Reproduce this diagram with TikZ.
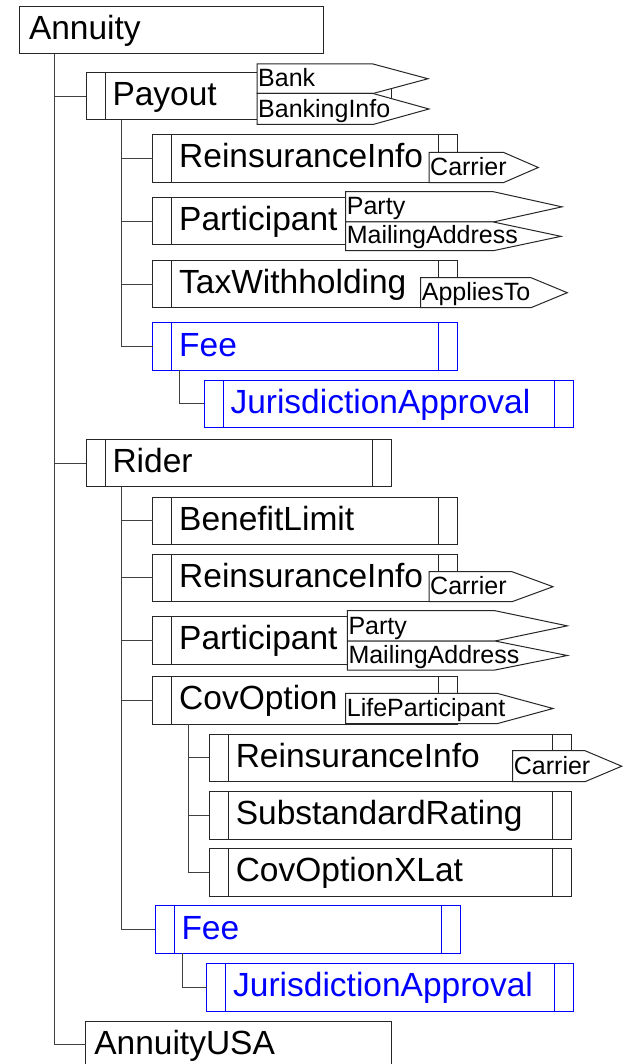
\documentclass[tikz,border=0pt]{standalone}
\usepackage{fontspec}
\setmainfont{Liberation Sans}
\usetikzlibrary{calc}
\newcommand\mytag[7]{%
  \draw[tagline] (#2,#3) -- (#5,#3) -- (#6,{(#3+#4)/2}) -- (#5,#4) -- (#2,#4) -- cycle;
  \node[tagtext] (#1) at ({#2+1},{#4-7}) {#7};}
\begin{document}
\begin{tikzpicture}[x=1pt,y=-1pt,
  basebox/.style={draw=black!85, line width=1pt, fill=white, anchor=north west,
    inner sep=0pt, outer sep=0pt, align=left, text height=24pt, text depth=5pt,
    font=\fontsize{33.5}{40}\selectfont},
  wb/.style={minimum width=#1, text width=#1},
  bars/.style={path picture={\draw[line width=1pt, #1]
     ([xshift=19pt]path picture bounding box.north west) -- ([xshift=19pt]path picture bounding box.south west)
     ([xshift=-19pt]path picture bounding box.north east) -- ([xshift=-19pt]path picture bounding box.south east);}},
  bars/.default=black!85,
  barbox/.style={basebox, bars, execute at begin node={\noindent\hspace*{26.5pt}}},
  bluebox/.style={basebox, draw=blue, text=blue, bars=blue, execute at begin node={\noindent\hspace*{26.5pt}}},
  plainbox/.style={basebox, execute at begin node={\noindent\hspace*{#1}}},
  conn/.style={draw=black!75, line width=1pt},
  tagline/.style={draw=black!85, line width=1pt, fill=white, line join=miter},
  tagtext/.style={anchor=base west, inner sep=0pt, font=\fontsize{25}{30}\selectfont}
]
\useasboundingbox (0,0) rectangle (624,1064);
\fill[white] (0,0) rectangle (624,1064);

% boxes
\node[plainbox=10pt, wb=304pt, minimum height=47pt] (annuity) at (19,7) {Annuity};
\node[barbox, wb=305pt, minimum height=47.3pt] (payout) at (86,72.7) {Payout};
\node[barbox, wb=305pt, minimum height=48pt] (pri) at (152.7,134.3) {ReinsuranceInfo};
\node[barbox, wb=305pt, minimum height=47.7pt] (ppart) at (152.7,197.3) {Participant};
\node[barbox, wb=305pt, minimum height=47.2pt] (ptax) at (152.7,260.5) {TaxWithholding};
\node[bluebox, wb=305pt, minimum height=47.6pt] (pfee) at (152.7,322.7) {Fee};
\node[bluebox, wb=369.3pt, minimum height=47.7pt] (pja) at (204,380) {JurisdictionApproval};
\node[barbox, wb=305pt, minimum height=47.4pt] (rider) at (86,439.3) {Rider};
\node[barbox, wb=305pt, minimum height=47pt] (rbl) at (152.7,497.3) {BenefitLimit};
\node[barbox, wb=305pt, minimum height=47.7pt] (rri) at (152.7,554) {ReinsuranceInfo};
\node[barbox, wb=305pt, minimum height=47.5pt] (rpart) at (152.7,616.5) {Participant};
\node[barbox, wb=305pt, minimum height=47.3pt] (rcov) at (152.7,676.7) {CovOption};
\node[barbox, wb=361.7pt, minimum height=47.7pt] (cri) at (209.3,734) {ReinsuranceInfo};
\node[barbox, wb=361.7pt, minimum height=48pt] (csr) at (209.3,791) {SubstandardRating};
\node[barbox, wb=361.7pt, minimum height=47.7pt] (cxl) at (209.3,848.3) {CovOptionXLat};
\node[bluebox, wb=305pt, minimum height=47.6pt] (rfee) at (155,905.7) {Fee};
\node[bluebox, wb=366.3pt, minimum height=47.7pt] (rja) at (206.7,963.3) {JurisdictionApproval};
\node[plainbox=8.6pt, wb=305.3pt, minimum height=47pt] (annuityusa) at (85.7,1021) {AnnuityUSA};

% connectors
\coordinate (t0) at ($(annuity.south west)+(35,0)$);
\draw[conn] (t0) |- (annuityusa.west);
\draw[conn] (t0 |- payout.west) -- (payout.west);
\draw[conn] (t0 |- rider.west) -- (rider.west);

\coordinate (t1) at ($(payout.south west)+(35.7,0)$);
\draw[conn] (t1) |- (pfee.west);
\foreach \n in {pri,ppart,ptax} \draw[conn] (t1 |- \n.west) -- (\n.west);
\draw[conn] ($(pfee.south west)+(26.6,0)$) |- (pja.west);

\coordinate (t2) at ($(rider.south west)+(35.7,0)$);
\draw[conn] (t2) |- (rfee.west);
\foreach \n in {rbl,rri,rpart,rcov} \draw[conn] (t2 |- \n.west) -- (\n.west);

\coordinate (t3) at ($(rcov.south west)+(35.6,0)$);
\draw[conn] (t3) |- (cxl.west);
\foreach \n in {cri,csr} \draw[conn] (t3 |- \n.west) -- (\n.west);
\draw[conn] ($(rfee.south west)+(27.5,0)$) |- (rja.west);

% tags
\mytag{bank}{257}{64}{93.5}{373}{428}{Bank}
\mytag{bankinfo}{257}{93.5}{124.5}{373}{429}{BankingInfo}
\mytag{pcarrier}{429}{152.3}{182.7}{503.3}{538.3}{Carrier}
\mytag{pparty}{345.7}{191.7}{222}{493.3}{562}{Party}
\mytag{pmail}{345.7}{222}{250.7}{493.3}{561}{MailingAddress}
\mytag{applies}{420.7}{277.7}{307.7}{531}{567.3}{AppliesTo}
\mytag{rcarrier}{429}{571.7}{601.7}{512}{553}{Carrier}
\mytag{rparty}{347.3}{610.7}{641}{495}{567.3}{Party}
\mytag{rmail}{347.3}{641}{670}{495}{567.3}{MailingAddress}
\mytag{lifep}{345.7}{693.3}{723.7}{497}{553}{LifeParticipant}
\mytag{ccarrier}{512.7}{750.7}{781.7}{585}{621.7}{Carrier}
\end{tikzpicture}
\end{document}
